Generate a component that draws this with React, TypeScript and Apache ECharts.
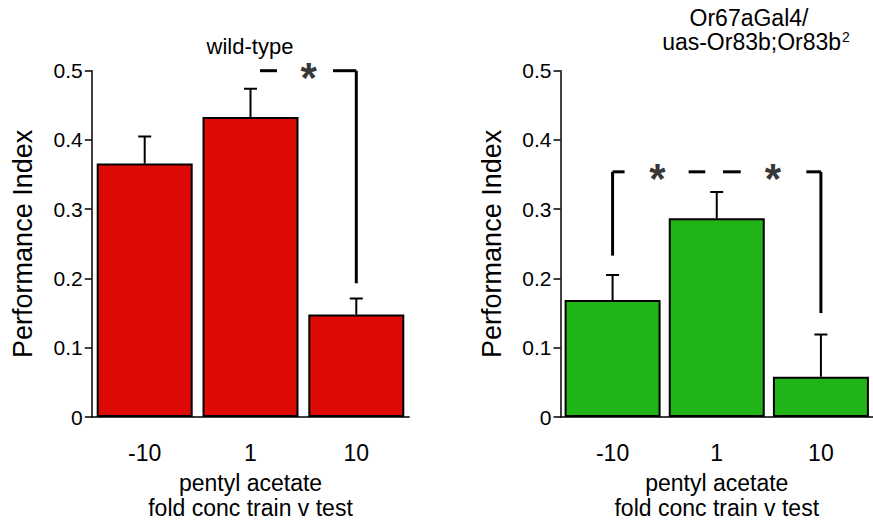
import React, { useEffect, useRef } from 'react';
import * as echarts from 'echarts';

const categories = ['-10', '1', '10'];
const wildTypeMeans = [0.366, 0.433, 0.148];
const wildTypeSem = [0.039, 0.041, 0.023];
const or67aMeans = [0.169, 0.287, 0.058];
const or67aSem = [0.036, 0.038, 0.061];
const yTickStep = 0.1;
const yMax = 0.5;
const leftTitle = 'wild-type';
const rightTitleLine1 = 'Or67aGal4/';
const rightTitleLine2 = 'uas-Or83b;Or83b';
const rightTitleSup = '2';
const xAxisTitle = 'pentyl acetate\nfold conc train v test';
const yAxisTitle = 'Performance Index';
// bracket segments: [x1, y1, x2, y2] in (category index, value) units
const wildTypeBracket = [
  [1.09, 0.5, 1.25, 0.5],
  [1.78, 0.5, 2.0, 0.5],
  [2.0, 0.5, 2.0, 0.193],
];
const wildTypeStars = [[1.55, 0.5]];
const or67aBracket = [
  [0.0, 0.233, 0.0, 0.354],
  [0.0, 0.354, 0.115, 0.354],
  [0.73, 0.354, 0.89, 0.354],
  [1.06, 0.354, 1.23, 0.354],
  [1.86, 0.354, 2.0, 0.354],
  [2.0, 0.354, 2.0, 0.15],
];
const or67aStars = [[0.43, 0.354], [1.54, 0.354]];

const FONT = '"Liberation Sans", Arial, Helvetica, sans-serif';
const RED = '#DD0A05';
const GREEN = '#21B417';

function errorRender(params: any, api: any) {
  const idx = api.value(0);
  const mean = api.value(1);
  const sem = api.value(2);
  const base = api.coord([idx, mean]).slice();
  const top = api.coord([idx, mean + sem]).slice();
  const half = 6.5;
  return {
    type: 'polyline',
    shape: {
      points: [
        [base[0], base[1]],
        [top[0], top[1]],
        [top[0] - half, top[1]],
        [top[0] + half, top[1]],
      ],
    },
    style: { stroke: '#000', lineWidth: 2, fill: 'none' },
  };
}

function bracketRender(params: any, api: any) {
  const p1 = api.coord([api.value(0), api.value(1)]).slice();
  const p2 = api.coord([api.value(2), api.value(3)]).slice();
  return {
    type: 'polyline',
    shape: { points: [[p1[0], p1[1]], [p2[0], p2[1]]] },
    style: { stroke: '#000', lineWidth: 3, lineCap: 'butt', fill: 'none' },
  };
}

function panelAxes(gridIndex: number) {
  const xCat = {
    type: 'category',
    gridIndex,
    data: categories,
    axisLine: { show: true, onZero: false, lineStyle: { color: '#000', width: 1.5 } },
    axisTick: { show: false },
    splitLine: { show: false },
    axisLabel: { fontSize: 23, color: '#000', margin: 24, fontFamily: FONT },
    name: xAxisTitle,
    nameLocation: 'middle',
    nameGap: 53,
    nameTextStyle: { fontSize: 23, lineHeight: 25, color: '#000', fontFamily: FONT },
  };
  const xVal = {
    type: 'value',
    gridIndex,
    min: -0.5,
    max: 2.5,
    show: false,
    splitLine: { show: false },
    axisLine: { show: false, onZero: false },
    axisTick: { show: false },
    axisLabel: { show: false },
  };
  const y = {
    type: 'value',
    gridIndex,
    min: 0,
    max: yMax,
    interval: yTickStep,
    axisLine: { show: true, onZero: false, lineStyle: { color: '#000', width: 1.5 } },
    axisTick: { show: true, length: 7, lineStyle: { color: '#000', width: 1.5 } },
    splitLine: { show: false },
    axisLabel: {
      fontSize: 21,
      color: '#000',
      margin: 9,
      fontFamily: FONT,
      formatter: (v: number) => (v === 0 ? '0' : v.toFixed(1)),
    },
    name: yAxisTitle,
    nameLocation: 'middle',
    nameGap: 55,
    nameTextStyle: { fontSize: 27, color: '#000', fontFamily: FONT },
  };
  return { xCat, xVal, y };
}

function panelSeries(p: number, means: number[], sem: number[], color: string, bracket: number[][], stars: number[][]) {
  return [
    {
      type: 'bar',
      xAxisIndex: p * 2,
      yAxisIndex: p,
      data: means,
      barWidth: 96,
      itemStyle: { color, borderColor: '#000', borderWidth: 2 },
      z: 2,
    },
    {
      type: 'custom',
      xAxisIndex: p * 2,
      yAxisIndex: p,
      data: means.map((m, i) => [i, m, sem[i]]),
      encode: { x: 0, y: 1 },
      renderItem: errorRender,
      z: 3,
    },
    {
      type: 'custom',
      xAxisIndex: p * 2 + 1,
      yAxisIndex: p,
      data: bracket,
      encode: { x: [0, 2], y: [1, 3] },
      renderItem: bracketRender,
      clip: false,
      z: 4,
    },
    {
      type: 'scatter',
      xAxisIndex: p * 2 + 1,
      yAxisIndex: p,
      data: stars,
      symbol: 'circle',
      symbolSize: 1,
      itemStyle: { color: 'rgba(255,255,255,0)' },
      label: {
        show: true,
        position: 'inside',
        formatter: '*',
        fontSize: 42,
        fontWeight: 'bold',
        color: '#000',
        fontFamily: FONT,
        offset: [0, 7],
      },
      z: 5,
    },
  ];
}

export default function App() {
  const ref = useRef<HTMLDivElement>(null);
  useEffect(() => {
    document.body.style.margin = '0';
    if (!ref.current) return;
    const chart = echarts.init(ref.current, undefined, { renderer: 'svg' });
    const a0 = panelAxes(0);
    const a1 = panelAxes(1);
    chart.setOption({
      animation: false,
      backgroundColor: '#fff',
      textStyle: { fontFamily: FONT },
      grid: [
        { left: 91.8, top: 70.7, width: 317.4, height: 348.4 },
        { left: 560.5, top: 70.7, width: 316.5, height: 348.6 },
      ],
      xAxis: [a0.xCat, a0.xVal, a1.xCat, a1.xVal],
      yAxis: [a0.y, a1.y],
      series: [
        ...panelSeries(0, wildTypeMeans, wildTypeSem, RED, wildTypeBracket, wildTypeStars),
        ...panelSeries(1, or67aMeans, or67aSem, GREEN, or67aBracket, or67aStars),
      ],
      graphic: [
        {
          type: 'text',
          x: 250,
          y: 46,
          style: { text: leftTitle, fontSize: 22, fontFamily: FONT, fill: '#000', align: 'center', verticalAlign: 'middle' },
        },
        {
          type: 'text',
          x: 749,
          y: 17.5,
          style: { text: rightTitleLine1, fontSize: 23, fontFamily: FONT, fill: '#000', align: 'center', verticalAlign: 'middle' },
        },
        {
          type: 'text',
          x: 756,
          y: 42,
          style: {
            text: rightTitleLine2 + '{sup|' + rightTitleSup + '}',
            fontSize: 23,
            fontFamily: FONT,
            fill: '#000',
            align: 'center',
            verticalAlign: 'middle',
            rich: {
              sup: { fontSize: 14, fontFamily: FONT, fill: '#000', padding: [0, 0, 10, 1] },
            },
          },
        },
      ],
    });
    return () => chart.dispose();
  }, []);
  return <div ref={ref} style={{ width: 873, height: 525 }} />;
}
